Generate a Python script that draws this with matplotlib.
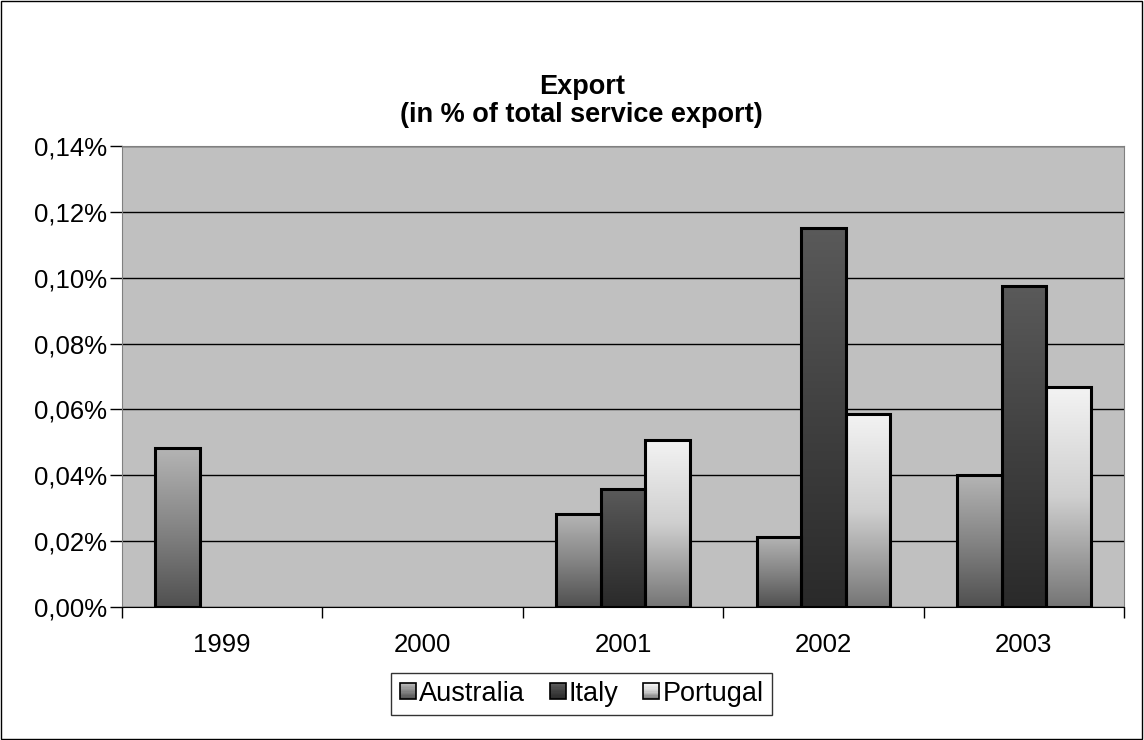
import numpy as np
import matplotlib
matplotlib.use("Agg")
import matplotlib.pyplot as plt
from matplotlib.colors import LinearSegmentedColormap
from matplotlib.patches import Rectangle
from matplotlib.legend_handler import HandlerBase
from matplotlib.ticker import FixedLocator, FuncFormatter

plt.rcParams['font.family'] = ['Liberation Sans', 'DejaVu Sans']

years = ['1999', '2000', '2001', '2002', '2003']
series = ['Australia', 'Italy', 'Portugal']
australia = [0.0483, 0.0, 0.0282, 0.0213, 0.0401]
italy = [0.0, 0.0, 0.0357, 0.1151, 0.0975]
portugal = [0.0, 0.0, 0.0506, 0.0586, 0.0668]
values = [australia, italy, portugal]

# gradient stops (bottom -> top) per series
grad = {
    'Australia': ['#505050', '#858585', '#b5b5b5'],
    'Italy': ['#2a2a2a', '#404040', '#5a5a5a'],
    'Portugal': ['#757575', '#cfcfcf', '#f3f3f3'],
}
cmaps = {k: LinearSegmentedColormap.from_list(k, v) for k, v in grad.items()}

fig = plt.figure(figsize=(11.44, 7.40), dpi=100)
fig.patch.set_facecolor('white')
fig.add_artist(Rectangle((0.0005, 0.001), 0.998, 0.997, transform=fig.transFigure,
                         fill=False, edgecolor='black', linewidth=1))

ax = fig.add_axes([0.1066, 0.1797, 0.8759, 0.6230])
ax.set_facecolor('#c0c0c0')

n = len(years)
bw = 1 / 4.5
x = np.arange(n)
grad_img = np.linspace(0, 1, 256).reshape(-1, 1)

for i, (name, vals) in enumerate(zip(series, values)):
    offs = (i - 1) * bw
    for xi, v in zip(x, vals):
        if v <= 0:
            continue
        x0 = xi + offs - bw / 2
        ax.imshow(grad_img, cmap=cmaps[name], origin='lower', aspect='auto',
                  extent=(x0, x0 + bw, 0, v), zorder=2, interpolation='bilinear')
        ax.add_patch(Rectangle((x0, 0), bw, v, fill=False, edgecolor='black',
                               linewidth=2.2, zorder=3))

ax.set_xlim(-0.5, n - 0.5)
ax.set_ylim(0, 0.14)
ax.set_yticks(np.arange(0, 0.1401, 0.02))
ax.yaxis.set_major_formatter(FuncFormatter(lambda v, p: f"{v:.2f}%".replace('.', ',')))
ax.yaxis.grid(True, color='black', linewidth=1, zorder=1)
ax.set_axisbelow(True)

ax.set_xticks(x)
ax.set_xticklabels(years)
ax.xaxis.set_minor_locator(FixedLocator(np.arange(-0.5, n, 1.0)))
ax.tick_params(axis='x', which='major', length=0, pad=19, labelsize=18.5)
ax.tick_params(axis='x', which='minor', length=8, width=1, color='black')
ax.tick_params(axis='y', length=9, width=1, color='black', pad=2, labelsize=18.5)

for s in ['top', 'right']:
    ax.spines[s].set_color('#808080')
ax.spines['left'].set_color('#808080')
ax.spines['bottom'].set_color('black')
ax.spines['bottom'].set_zorder(4)

fig.text(0.5085, 0.8824, 'Export', ha='center', va='center',
         fontsize=19.5, fontweight='bold')
fig.text(0.5085, 0.8446, '(in % of total service export)', ha='center', va='center',
         fontsize=19.5, fontweight='bold')


class GradHandler(HandlerBase):
    def __init__(self, name):
        super().__init__()
        self.name = name

    def create_artists(self, legend, orig_handle, xdescent, ydescent, width, height, fontsize, trans):
        side = height * 0.85
        x0 = xdescent + width - side
        y0 = -ydescent + (height - side) / 2
        arts = []
        k = 12
        for j in range(k):
            c = cmaps[self.name](1 - j / (k - 1))
            arts.append(Rectangle((x0, y0 + side * (k - 1 - j) / k), side, side / k,
                                  facecolor=c, edgecolor='none', transform=trans))
        arts.append(Rectangle((x0, y0), side, side, fill=False, edgecolor='black',
                              linewidth=1.2, transform=trans))
        return arts


handles = [Rectangle((0, 0), 1, 1) for _ in series]
leg = fig.legend(handles, series, loc='center', bbox_to_anchor=(0.5085, 0.0625), ncol=3,
                 fontsize=19.5, frameon=True, fancybox=False, edgecolor='black',
                 handler_map={h: GradHandler(nm) for h, nm in zip(handles, series)},
                 handlelength=0.6, handletextpad=0.12, columnspacing=0.9,
                 borderpad=0.3, borderaxespad=0)
leg.get_frame().set_linewidth(1)

fig.savefig('out.png', dpi=100, facecolor='white')
